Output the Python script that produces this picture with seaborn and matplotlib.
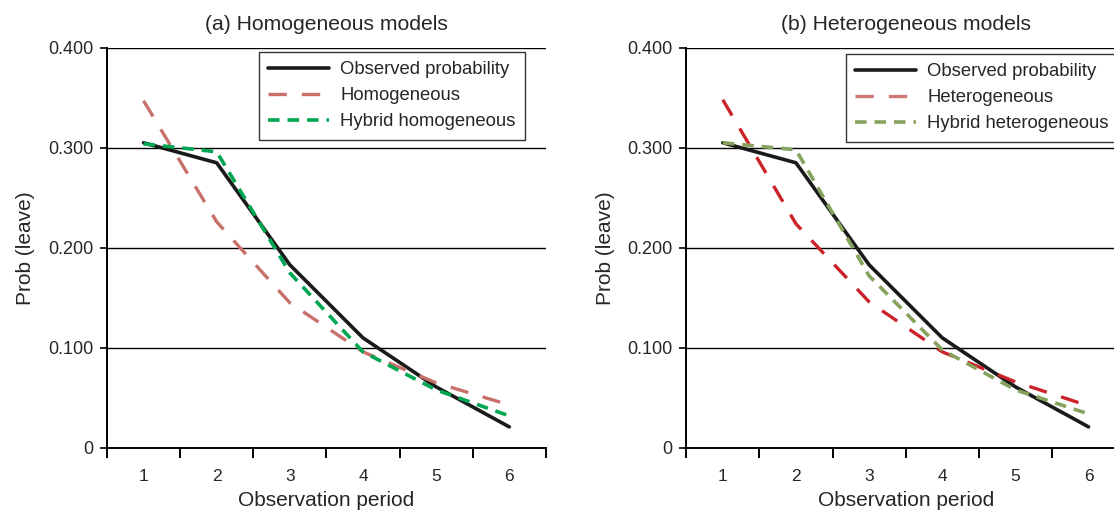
import numpy as np
import pandas as pd
import matplotlib
matplotlib.use("Agg")
import matplotlib.pyplot as plt
from matplotlib.ticker import FixedLocator
import seaborn as sns

sns.set_style("white")
plt.rcParams["font.family"] = ["Liberation Sans", "DejaVu Sans"]
plt.rcParams["font.size"] = 12.5

# ---- data ----
periods = [1, 2, 3, 4, 5, 6]
observed = [0.305, 0.285, 0.183, 0.110, 0.061, 0.021]

homogeneous = [0.347, 0.226, 0.145, 0.096, 0.065, 0.043]
hybrid_homogeneous = [0.304, 0.296, 0.175, 0.096, 0.058, 0.032]

heterogeneous = [0.348, 0.224, 0.146, 0.096, 0.066, 0.042]
hybrid_heterogeneous = [0.305, 0.298, 0.172, 0.098, 0.058, 0.034]

yticks = [0, 0.1, 0.2, 0.3, 0.4]
ytick_labels = ["0", "0.100", "0.200", "0.300", "0.400"]

panels = [
    ("(a) Homogeneous models",
     [("Observed probability", observed, "#1a1a1a", "-", 2.6),
      ("Homogeneous", homogeneous, "#c8706a", (0, (5.5, 4.5)), 2.4),
      ("Hybrid homogeneous", hybrid_homogeneous, "#00a651", (0, (3.2, 2.2)), 2.6)]),
    ("(b) Heterogeneous models",
     [("Observed probability", observed, "#1a1a1a", "-", 2.6),
      ("Heterogeneous", heterogeneous, "#cc2229", (0, (5.5, 4.5)), 2.4),
      ("Hybrid heterogeneous", hybrid_heterogeneous, "#86a35e", (0, (3.2, 2.2)), 2.6)]),
]

fig = plt.figure(figsize=(11.14, 5.19), dpi=100)
ax1 = fig.add_axes([0.096, 0.137, 0.394, 0.771])
ax2 = fig.add_axes([0.616, 0.137, 0.394, 0.771])

for ax, (title, series) in zip([ax1, ax2], panels):
    for name, vals, col, ls, lw in series:
        df = pd.DataFrame({"period": periods, "prob": vals})
        sns.lineplot(data=df, x="period", y="prob", ax=ax, color=col,
                     linestyle=ls, lw=lw, label=name)

    ax.set_xlim(0.5, 6.5)
    ax.set_ylim(0, 0.4)
    ax.set_yticks(yticks)
    ax.set_yticklabels(ytick_labels)
    ax.yaxis.grid(True, color="black", lw=1.0)
    ax.set_axisbelow(True)

    # category labels in the middle, tick marks on the boundaries
    ax.set_xticks(periods)
    ax.set_xticklabels([str(p) for p in periods])
    ax.xaxis.set_minor_locator(FixedLocator(np.arange(0.5, 7, 1)))
    ax.tick_params(axis="x", which="major", length=0, pad=15, labelsize=12.5)
    ax.tick_params(axis="x", which="minor", length=7, width=1.4,
                   direction="out", bottom=True, color="black")
    ax.tick_params(axis="y", length=5, width=1.2, direction="out",
                   left=True, color="black", pad=5, labelsize=13)

    for s in ["top", "right"]:
        ax.spines[s].set_visible(False)
    for s in ["left", "bottom"]:
        ax.spines[s].set_color("black")
        ax.spines[s].set_linewidth(1.4)

    ax.set_title(title, pad=13, fontsize=15.2)
    ax.set_xlabel("Observation period", labelpad=5, fontsize=15)
    ax.set_ylabel("Prob (leave)", labelpad=9, fontsize=15)

leg_kw = dict(frameon=True, fancybox=False, edgecolor="black", fontsize=13.3,
              handlelength=3.3, borderpad=0.5, labelspacing=0.5,
              handletextpad=0.6, borderaxespad=0)
leg1 = ax1.legend(loc="upper right", bbox_to_anchor=(0.952, 0.99), **leg_kw)
leg2 = ax2.legend(loc="upper left", bbox_to_anchor=(0.364, 0.985), **leg_kw)
for leg in [leg1, leg2]:
    leg.get_frame().set_linewidth(1.0)
# the reference legend shows the model line in the lighter rose tone
leg2.get_lines()[1].set_color("#d07878")

fig.savefig("out.png", dpi=100)
